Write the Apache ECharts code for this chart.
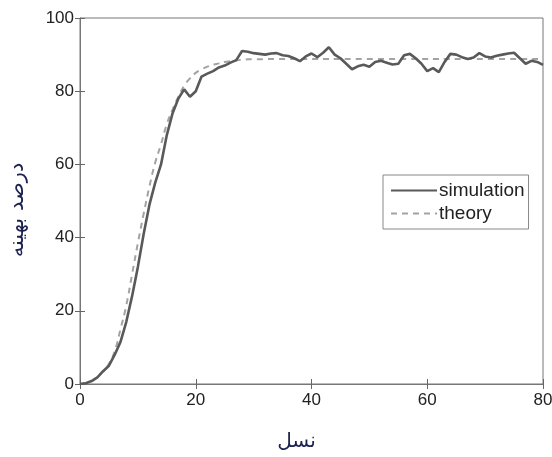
<!DOCTYPE html>
<html>
<head>
<meta charset="utf-8">
<script src="https://cdn.jsdelivr.net/npm/echarts@6/dist/echarts.min.js"></script>
<style>html,body{margin:0;padding:0;background:#fff}#c{width:552px;height:457px}</style>
</head>
<body>
<div id="c"></div>
<script>
var generations = [];
for (var g = 0; g <= 80; g++) generations.push(g);
var simulation = [0,0.2,0.8,1.8,3.5,5,8,11.5,17,24,32,41,49,55,60,68,74,78,80.5,78.5,80,84,84.8,85.5,86.5,87,87.8,88.5,91,90.8,90.4,90.2,90,90.3,90.4,89.8,89.6,89,88.2,89.5,90.3,89.3,90.5,92,90,89,87.5,86,86.8,87.2,86.7,88,88.3,87.8,87.3,87.5,89.8,90.2,89,87.5,85.5,86.3,85.2,88,90.2,90,89.3,88.8,89.2,90.4,89.5,89.2,89.7,90,90.3,90.5,89,87.5,88.3,88,87.2];
var theory = [0,0.3,0.8,2,3.5,5.5,9,15,21.5,30,38.5,46.5,54,60.5,65.5,71,75,78.5,81.5,83.5,85,86,86.7,87.2,87.6,88,88.2,88.4,88.6,88.7,88.7,88.7,88.8,88.8,88.8,88.8,88.8,88.8,88.8,88.8,88.8,88.8,88.8,88.8,88.8,88.8,88.8,88.8,88.8,88.8,88.8,88.8,88.8,88.8,88.8,88.8,88.8,88.8,88.8,88.8,88.8,88.8,88.8,88.8,88.8,88.8,88.8,88.8,88.8,88.8,88.8,88.8,88.8,88.8,88.8,88.8,88.8,88.8,88.8,88.8,88.8];
var xTicks = [0,20,40,60,80];
var yTicks = [0,20,40,60,80,100];
var seriesNames = ['simulation','theory'];
var xName = 'نسل';
var yName = 'درصد بهینه';

function pairs(arr){ return generations.map(function(x,i){ return [x, arr[i]]; }); }

var chart = echarts.init(document.getElementById('c'), null, {renderer:'canvas'});
var tickStyle = {color:'#666', width:1};
chart.setOption({
  animation:false,
  backgroundColor:'#fff',
  grid:{left:80, right:9, top:18, bottom:73, show:true, borderColor:'#777', borderWidth:1, containLabel:false, outerBoundsMode:'none'},
  legend:{
    show:true, orient:'vertical', left:383, top:175,
    data:seriesNames,
    itemWidth:46, itemHeight:14, itemGap:4,
    padding:[6,4,6,7],
    borderColor:'#888', borderWidth:1, borderRadius:0,
    itemStyle:{opacity:0},
    textStyle:{fontFamily:'Liberation Sans, Arial', fontSize:19, color:'#222', padding:[0,0,0,-3]}
  },
  xAxis:[{
    type:'value', min:0, max:80, interval:20,
    axisLine:{show:true, lineStyle:{color:'#777'}},
    axisTick:{show:true, inside:true, length:5, lineStyle:tickStyle},
    splitLine:{show:false},
    axisLabel:{fontFamily:'Liberation Sans, Arial', fontSize:17, color:'#222', margin:8},
    name:xName, nameLocation:'middle', nameGap:48,
    nameTextStyle:{fontFamily:'DejaVu Sans, Noto Sans', fontSize:20, color:'#1c2250', padding:[0,30,0,0]}
  },{
    type:'value', min:0, max:80, interval:20, position:'top',
    axisLine:{show:false}, axisTick:{show:true, inside:true, length:5, lineStyle:tickStyle},
    axisLabel:{show:false}, splitLine:{show:false}
  }],
  yAxis:[{
    type:'value', min:0, max:100, interval:20,
    axisLine:{show:true, lineStyle:{color:'#777'}},
    axisTick:{show:true, inside:true, length:5, lineStyle:tickStyle},
    splitLine:{show:false},
    axisLabel:{fontFamily:'Liberation Sans, Arial', fontSize:17, color:'#222', margin:6},
    name:yName, nameLocation:'middle', nameGap:52, nameRotate:90,
    nameTextStyle:{fontFamily:'DejaVu Sans, Noto Sans', fontSize:21, color:'#1c2250', padding:[0,18,0,0]}
  },{
    type:'value', min:0, max:100, interval:20, position:'right',
    axisLine:{show:false}, axisTick:{show:true, inside:true, length:5, lineStyle:tickStyle},
    axisLabel:{show:false}, splitLine:{show:false}
  }],
  series:[{
    name:seriesNames[0], type:'line', data:pairs(simulation), symbol:'none', smooth:false,
    lineStyle:{color:'#595959', width:2.6}, itemStyle:{color:'#595959'}, z:3
  },{
    name:seriesNames[1], type:'line', data:pairs(theory), symbol:'none', smooth:true,
    lineStyle:{color:'#a3a3a3', width:2, type:[6,5]}, itemStyle:{color:'#a3a3a3'}, z:2
  }]
});
</script>
</body>
</html>
